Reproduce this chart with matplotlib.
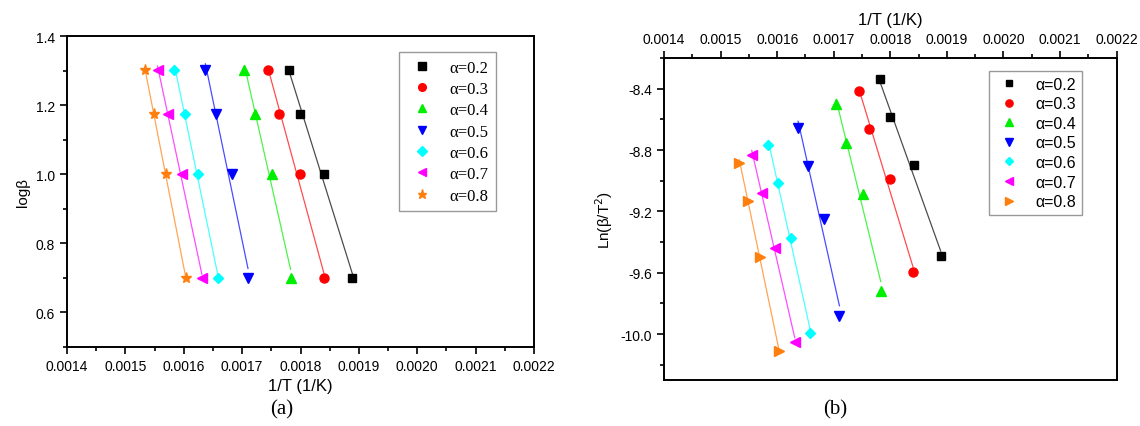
import numpy as np
import matplotlib.pyplot as plt
from matplotlib.ticker import MultipleLocator, FormatStrFormatter

# conversion levels
alphas = ['0.2', '0.3', '0.4', '0.5', '0.6', '0.7', '0.8']
colors = ['black', 'red', '#00ee00', 'blue', 'cyan', 'magenta', '#ff7f0e']

# 1/T (1/K), one row per alpha, heating rates 20, 15, 10, 5
inv_T = [
    [0.001781, 0.001799, 0.001841, 0.001889],
    [0.001745, 0.001763, 0.001799, 0.001840],
    [0.001704, 0.001722, 0.001752, 0.001783],
    [0.001637, 0.001655, 0.001682, 0.001710],
    [0.001584, 0.001602, 0.001625, 0.001658],
    [0.001555, 0.001573, 0.001597, 0.001631],
    [0.001533, 0.001549, 0.001570, 0.001603],
]

# log beta (same for every alpha)
log_beta = [1.301, 1.176, 1.000, 0.699]

# ln(beta/T^2)
ln_bT2 = [
    [-8.337, -8.583, -8.898, -9.488],
    [-8.413, -8.663, -8.990, -9.597],
    [-8.500, -8.753, -9.088, -9.717],
    [-8.657, -8.903, -9.249, -9.882],
    [-8.770, -9.018, -9.373, -9.995],
    [-8.831, -9.079, -9.436, -10.050],
    [-8.883, -9.133, -9.497, -10.113],
]

markers_a = ['s', 'o', '^', 'v', 'D', '<', '*']
markers_b = ['s', 'o', '^', 'v', 'D', '<', '>']
msize_a = [6, 6.5, 7, 7, 5.5, 7, 8]
msize_b = [6, 6.5, 7, 7, 5.5, 7, 7]

plt.rcParams['font.family'] = ['Liberation Sans', 'DejaVu Sans']

fig = plt.figure(figsize=(11.4, 4.27), dpi=100)
ax1 = fig.add_axes([0.0588, 0.185, 0.4096, 0.728])
ax2 = fig.add_axes([0.5825, 0.1077, 0.397, 0.754])


def draw(ax, ys, markers, sizes):
    for i in range(len(alphas)):
        x = np.array(inv_T[i])
        y = np.array(ys[i]) if np.ndim(ys[0]) else np.array(ys)
        # linear fit line over the x range of the points
        k, b = np.polyfit(x, y, 1)
        xx = np.array([x.min(), x.max()])
        ax.plot(xx, k * xx + b, color=colors[i], lw=0.9, alpha=0.7, zorder=2)
        ax.plot(x, y, linestyle='none', marker=markers[i], ms=sizes[i],
                color=colors[i], mec=colors[i], label='\u03b1=' + alphas[i], zorder=3)


draw(ax1, log_beta, markers_a, msize_a)
draw(ax2, ln_bT2, markers_b, msize_b)

for ax in (ax1, ax2):
    ax.set_xlim(0.0014, 0.0022)
    ax.xaxis.set_major_locator(MultipleLocator(0.0001))
    ax.xaxis.set_minor_locator(MultipleLocator(0.00005))
    ax.xaxis.set_major_formatter(FormatStrFormatter('%.4f'))
    for s in ax.spines.values():
        s.set_linewidth(1.4)
    ax.tick_params(which='major', direction='out', length=5, width=1.2, labelsize=10)
    ax.tick_params(which='minor', direction='out', length=3, width=1.2)

# panel (a)
ax1.set_ylim(0.5, 1.4)
ax1.yaxis.set_major_locator(MultipleLocator(0.2))
ax1.yaxis.set_minor_locator(MultipleLocator(0.1))
ax1.yaxis.set_major_formatter(FormatStrFormatter('%.1f'))
ax1.set_xlabel('1/T (1/K)', fontsize=12)
ax1.set_ylabel('log\u03b2', fontsize=11)
leg1 = ax1.legend(loc='upper left', bbox_to_anchor=(0.711, 0.949), borderaxespad=0,
                  frameon=True, fancybox=False, edgecolor='gray', handletextpad=0.8,
                  labelspacing=0.32, borderpad=0.45, handlelength=1.8, markerscale=0.85,
                  prop={'family': 'Liberation Serif', 'size': 12})
leg1.get_frame().set_linewidth(1.0)

# panel (b)
ax2.set_ylim(-10.3, -8.2)
ax2.yaxis.set_major_locator(MultipleLocator(0.4))
ax2.yaxis.set_minor_locator(MultipleLocator(0.2))
ax2.yaxis.set_major_formatter(FormatStrFormatter('%.1f'))
ax2.xaxis.tick_top()
ax2.xaxis.set_label_position('top')
ax2.set_xlabel('1/T (1/K)', fontsize=12, labelpad=6)
ax2.set_ylabel('Ln(\u03b2/T$^2$)', fontsize=11)
leg2 = ax2.legend(loc='upper left', bbox_to_anchor=(0.717, 0.96), borderaxespad=0,
                  frameon=True, fancybox=False, edgecolor='gray', handletextpad=0.8,
                  labelspacing=0.29, borderpad=0.35, handlelength=1.8, markerscale=0.8,
                  prop={'size': 11.5})
leg2.get_frame().set_linewidth(1.0)

fig.text(0.2475, 0.04, '(a)', ha='center', va='center', fontsize=15, family='Liberation Serif')
fig.text(0.733, 0.04, '(b)', ha='center', va='center', fontsize=15, family='Liberation Serif')

fig.savefig('out.png', dpi=100)
